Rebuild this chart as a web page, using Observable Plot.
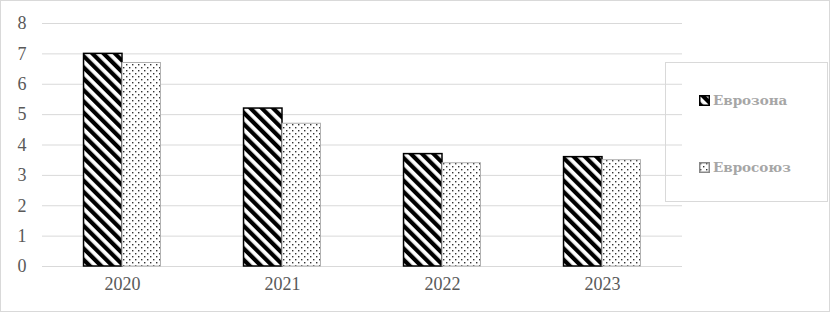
<!DOCTYPE html>
<html>
<head>
<meta charset="utf-8">
<script src="https://cdn.jsdelivr.net/npm/d3@7"></script>
<script src="https://cdn.jsdelivr.net/npm/@observablehq/plot@0.6"></script>
<style>
  body { margin: 0; background: #fff; }
  #wrap { position: relative; width: 830px; height: 312px; overflow: hidden; }
  #frame { position: absolute; left: 0; top: 0; width: 830px; height: 312px; box-sizing: border-box; border: 1px solid #d9d9d9; pointer-events: none; }
  #legend { position: absolute; left: 665px; top: 62px; width: 163px; height: 140px; box-sizing: border-box; border: 1px solid #d9d9d9; }
  .item { position: absolute; left: 33px; display: flex; align-items: center; font-family: "DejaVu Serif", serif; font-weight: bold; font-size: 13.5px; color: #a6a6a6; }
  .item svg { margin-right: 3px; }
</style>
</head>
<body>
<div id="wrap">
  <div id="chart"></div>
  <div id="legend"></div>
  <div id="frame"></div>
</div>
<script>
const years = ["2020", "2021", "2022", "2023"];
const seriesNames = ["Еврозона", "Евросоюз"];
const eurozone = [7.0, 5.2, 3.7, 3.6];
const euUnion = [6.7, 4.7, 3.4, 3.5];
const yTicks = [0, 1, 2, 3, 4, 5, 6, 7, 8];

const data = years.flatMap((y, i) => [
  {year: y, series: seriesNames[0], value: eurozone[i]},
  {year: y, series: seriesNames[1], value: euUnion[i]}
]);

const chart = Plot.plot({
  width: 830,
  height: 312,
  marginLeft: 40,
  marginRight: 147,
  marginTop: 23,
  marginBottom: 46,
  style: {fontFamily: "'Liberation Serif', serif", fontSize: "18px", color: "#595959", background: "transparent", overflow: "visible"},
  fx: {domain: years, paddingInner: 0, paddingOuter: 0, label: null, tickSize: 0, tickPadding: 11},
  x: {domain: seriesNames, axis: null, paddingInner: 0, paddingOuter: 1.08, round: false},
  y: {domain: [0, 8], ticks: yTicks, label: null, tickSize: 0, tickPadding: 16},
  marks: [
    Plot.gridY(yTicks, {stroke: "#d9d9d9", strokeOpacity: 1, strokeWidth: 1}),
    Plot.barY(data.filter(d => d.series === seriesNames[0]), {
      fx: "year", x: "series", y: "value",
      fill: "url(#stripes)", stroke: "#000", strokeWidth: 1.5, insetLeft: 0, insetRight: 0
    }),
    Plot.barY(data.filter(d => d.series === seriesNames[1]), {
      fx: "year", x: "series", y: "value",
      fill: "url(#dots)", stroke: "#b0b0b0", strokeWidth: 1, insetLeft: 0, insetRight: 0
    })
  ]
});

const defs = `
<pattern id="stripes" patternUnits="userSpaceOnUse" width="8" height="8" patternTransform="rotate(-45)">
  <rect x="0" y="0" width="8" height="8" fill="#fff"/>
  <rect x="0" y="0" width="4.2" height="8" fill="#000"/>
</pattern>
<pattern id="dots" patternUnits="userSpaceOnUse" width="6" height="6">
  <rect x="0" y="0" width="6" height="6" fill="#fff"/>
  <rect x="1" y="1" width="1.4" height="1.4" fill="#333"/>
  <rect x="4" y="4" width="1.4" height="1.4" fill="#333"/>
</pattern>`;
d3.select(chart).insert("defs", ":first-child").html(defs);
document.getElementById("chart").appendChild(chart);

// Legend
const legend = d3.select("#legend");
const legendFills = ["url(#stripes)", "url(#dots)"];
const legendStrokes = ["#000", "#888"];
const legendTops = [29, 96];
seriesNames.forEach((name, i) => {
  const item = legend.append("div").attr("class", "item").style("top", legendTops[i] + "px");
  const sw = item.append("svg").attr("width", 11).attr("height", 11);
  sw.append("rect").attr("x", 0.75).attr("y", 0.75).attr("width", 9.5).attr("height", 9.5)
    .attr("fill", legendFills[i]).attr("stroke", legendStrokes[i]).attr("stroke-width", 1.5);
  item.append("span").text(name);
});
</script>
</body>
</html>
